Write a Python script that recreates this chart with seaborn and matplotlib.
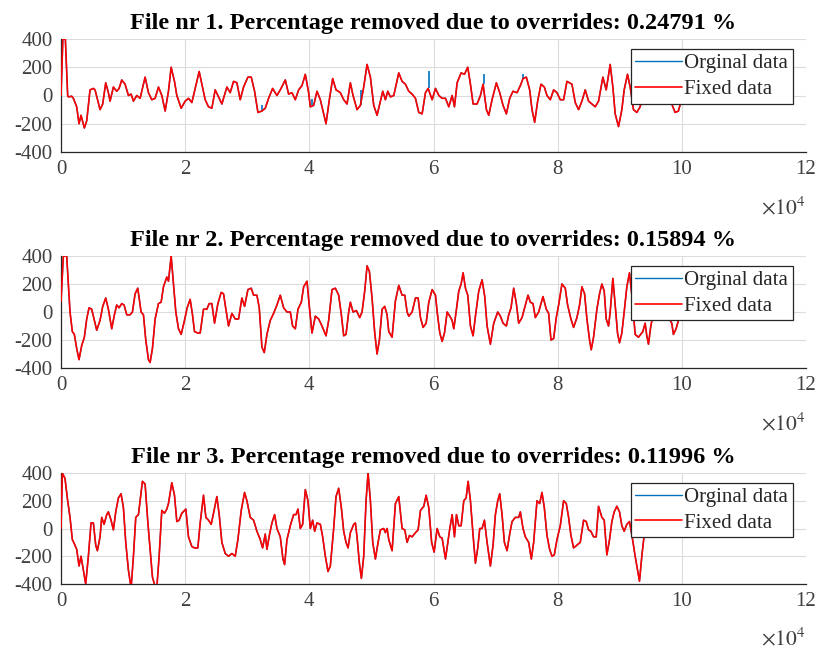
import numpy as np
import pandas as pd
import matplotlib
matplotlib.use("Agg")
import matplotlib.pyplot as plt
import seaborn as sns
from matplotlib.ticker import FixedLocator, FuncFormatter

# ---- data: sample index and filtered value, one set per file ----
file1_x = [0, 300, 700, 1075, 1183, 1720, 1989, 2527, 2903, 3226, 3763, 4140, 4677, 5215, 5484,
           6290, 6720, 7204, 7634, 7903, 8440, 8978, 9354, 9784, 10322, 10859, 11290, 11666,
           12204, 12741, 13548, 14085, 14623, 15160, 15698, 16236, 16773, 17311, 17741, 18278,
           18655, 19354, 19999, 20536, 21074, 21612, 22257, 22687, 23224, 23762, 24300, 24837,
           25375, 25912, 26719, 27256, 27794, 28332, 28869, 29407, 30106, 30643, 31181, 31718,
           32363, 32901, 33439, 34084, 34783, 35320, 36127, 36664, 37202, 37740, 38277, 38815,
           39352, 39890, 40159, 40697, 41234, 41772, 42309, 42685, 43223, 43761, 44298, 44997,
           45535, 46072, 46610, 47040, 47685, 48223, 48760, 49298, 49835, 50373, 50911, 51448,
           51825, 52255, 52631, 53061, 53599, 54405, 54943, 55480, 56018, 56556, 57093, 57631,
           58168, 58706, 59136, 59781, 60322, 60858, 61394, 61930, 62466, 63002, 63377, 63806,
           64449, 64985, 65521, 65950, 66378, 67022, 67558, 67986, 68522, 68898, 69434, 70130,
           70666, 71202, 71738, 72274, 72810, 73454, 73990, 74418, 74954, 75490, 75866, 76294,
           76777, 77313, 77849, 78278, 78814, 79350, 79886, 80422, 80958, 81494, 82298, 82834,
           83370, 83906, 84442, 84978, 85514, 86050, 86586, 87282, 87818, 88462, 88890, 89266,
           89802, 90338, 90713, 91249, 91678, 92214, 92750, 93286, 93822, 94626, 95430, 96234,
           97038, 97842, 98378, 98914, 99450, 99878]
file1_y = [0, 400, 400, 0, -10, -5, -20, -80, -200, -140, -230, -180, 40, 50, 40,
           -100, -60, 90, 20, -40, 60, 30, 50, 110, 80, 0, 10, -40,
           0, -20, 130, 20, -30, -20, 60, 0, -110, 30, 200, 100,
           0, -90, -40, -20, -50, 50, 170, 80, -30, -80, -90, 40,
           -10, -60, 60, 20, 100, 90, -30, 60, 130, 130, 30, -120,
           -110, -90, -20, 50, 0, 40, 110, 10, 20, -30, 40, 70,
           150, 20, -80, -70, 30, -30, -130, -200, -30, 120, 40, 20,
           -30, -60, 90, 0, -100, -70, 60, 220, 130, -70, -140, -40,
           30, -30, 30, -10, 0, 160, 100, 80, 30, 10, -20, -120,
           -130, 20, 50, -30, 50, 0, -20, -20, -80, 0, -80, 90,
           160, 150, 200, 80, -60, -60, 0, 80, -100, -140, -30, 90,
           20, -70, -130, -20, 30, 20, 70, 120, 130, 40, -100, -190,
           -40, 80, 60, 0, -30, 40, 20, -30, -30, 100, 80, -50,
           -100, -40, 40, -40, -60, -80, -40, 130, 40, 220, 60, -130,
           -220, -100, 40, 150, 60, -100, -120, -80, 30, 100, -20, 60,
           20, -20, -60, -120, -110, -40]

file2_x = [0, 376, 914, 1183, 1452, 1828, 2150, 2527, 2903, 3333, 3763, 4140, 4516, 4946, 5376,
           5752, 6290, 6720, 7204, 7634, 8172, 8602, 8978, 9354, 9784, 10161, 10591, 11128,
           11505, 11935, 12365, 12902, 13279, 13655, 14085, 14354, 14730, 15160, 15698, 16128,
           16504, 17042, 17311, 17741, 18117, 18493, 18924, 19354, 19891, 20321, 20805, 21181,
           21504, 22042, 22418, 22956, 23493, 23869, 24300, 24730, 25267, 25805, 26181, 26557,
           26988, 27525, 28063, 28600, 29138, 29568, 30106, 30643, 31020, 31557, 31933, 32363,
           32740, 33170, 33707, 34245, 34783, 35320, 35858, 36396, 36933, 37309, 37740, 38170,
           38707, 39084, 39621, 39997, 40427, 40965, 41503, 42040, 42685, 43115, 43653, 44191,
           44728, 45158, 45535, 45911, 46341, 46610, 47040, 47578, 48115, 48492, 48922, 49298,
           49674, 50104, 50534, 50911, 51287, 51717, 52147, 52524, 52793, 53330, 53868, 54405,
           54943, 55373, 55749, 56018, 56556, 57093, 57523, 57900, 58330, 58813, 59243, 59781,
           60319, 60590, 61018, 61394, 61769, 62198, 62626, 63002, 63270, 63698, 64074, 64449,
           64770, 65146, 65521, 65950, 66378, 66754, 67290, 67826, 68254, 68630, 69166, 69702,
           70345, 70774, 71202, 71738, 72114, 72489, 72918, 73346, 73722, 74258, 74794, 75222,
           75598, 76026, 76402, 76938, 77634, 78170, 78546, 78921, 79350, 79778, 80154, 80690,
           81226, 81601, 82137, 82566, 83102, 83530, 83906, 84334, 84710, 85138, 85406, 85782,
           86318, 86746, 87122, 87497, 87818, 88194, 88462, 88890, 89266, 89641, 89962, 90338,
           90713, 91142, 91570, 91999, 92482, 93018, 93714, 94090, 94358, 94626, 95001, 95698,
           96502, 97306, 97842, 98378, 98646, 99074, 99450]
file2_y = [75, 400, 400, 200, 0, -140, -160, -260, -340, -240, -180, -50, 30, 20, -60,
           -130, -60, 40, 100, 20, -120, -20, 50, 30, 60, 50, -20, -20,
           0, 130, 170, 0, -20, -200, -340, -360, -260, -50, 60, 70,
           180, 250, 220, 400, 200, 0, -120, -160, -60, 30, 90, -20,
           -140, -150, -150, 20, 20, 60, 60, -80, 60, 140, 130, 20,
           -100, -10, -50, -50, 100, 40, 160, 170, 120, 120, 30, -250,
           -290, -160, -60, -10, 50, 120, 30, 0, 0, -100, -120, 20,
           70, 180, 220, 40, -150, -30, -50, -100, -170, -60, 160, 170,
           120, -20, -170, -160, 0, 70, 0, 10, -40, 0, 150, 330,
           290, 100, -150, -300, -200, 20, 40, -20, -140, -180, 80, 190,
           120, 120, 0, -30, 0, 100, 100, -40, -110, -80, 70, 160,
           120, 0, -150, -210, -150, 0, -30, -60, -120, 20, 150, 200,
           280, 170, 120, -100, -170, -30, 150, 230, 110, -100, -230, -80,
           0, -30, -80, -100, -20, 30, 170, 60, -80, -40, 50, 120,
           70, 60, -40, 0, 110, 20, -10, -200, -190, -40, 50, 200,
           170, 50, -50, -110, -40, 50, 180, 130, -50, -200, -270, -180,
           20, 130, 200, 150, -50, -100, 0, 240, 50, -150, -220, -150,
           0, 180, 280, 100, -160, -180, -140, -80, -170, -230, -100, 50,
           150, 0, -40, -80, -160, -120, -60]

file3_x = [0, 215, 645, 1075, 1452, 1828, 2150, 2527, 2903, 3226, 3602, 3978, 4408, 4838, 5215,
           5591, 5860, 6290, 6559, 6935, 7365, 7634, 8064, 8440, 8817, 9247, 9677, 10053,
           10429, 10859, 11290, 11666, 12042, 12472, 13117, 13548, 13978, 14354, 14730, 15160,
           15429, 15805, 16236, 16666, 17042, 17311, 17848, 18278, 18655, 19031, 19461, 20106,
           20536, 21074, 21504, 22042, 22418, 22956, 23332, 23762, 24192, 24568, 25106, 25482,
           25912, 26450, 26988, 27525, 28063, 28493, 29030, 29568, 29944, 30482, 31020, 31557,
           32095, 32471, 32901, 33170, 33600, 33976, 34406, 34783, 35320, 35750, 36019, 36396,
           36933, 37471, 37847, 38170, 38546, 38922, 39352, 39782, 40159, 40535, 40858, 41234,
           41772, 42148, 42578, 43008, 43384, 43922, 44298, 44728, 45158, 45535, 45911, 46234,
           46610, 47148, 47417, 47685, 48061, 48384, 48760, 49137, 49459, 49835, 50212, 50642,
           51072, 51448, 51986, 52255, 52524, 52793, 53330, 53868, 54405, 54943, 55373, 55749,
           56126, 56556, 57093, 57523, 57900, 58437, 58813, 59243, 59700, 60100, 60590, 61018,
           61394, 61930, 62305, 62626, 63002, 63377, 63698, 64074, 64449, 64878, 65253, 65574,
           65950, 66378, 66754, 67129, 67450, 67826, 68201, 68630, 69166, 69594, 69970, 70345,
           70666, 71042, 71417, 71846, 72274, 72650, 73186, 73722, 73990, 74418, 74794, 75330,
           75758, 76134, 76670, 77098, 77474, 77849, 78278, 78706, 79082, 79457, 79886, 80422,
           80958, 81386, 81762, 82137, 82566, 83102, 83638, 84174, 84602, 84978, 85353, 85782,
           86210, 86586, 87122, 87497, 87926, 88354, 88730, 89105, 89534, 89962, 90338, 90713,
           91142, 91570, 91999, 92482, 93178, 93554, 93929, 94626, 95430, 96234, 96770, 97306,
           97574]
file3_y = [0, 400, 360, 200, 80, -80, -110, -150, -270, -200, -300, -400, -200, 40, 40,
           -120, -160, -60, 80, 30, 100, 120, 60, -10, 120, 220, 250, 150,
           -100, -300, -430, -200, 80, 100, 340, 320, 50, -150, -350, -420,
           -430, -200, 130, 110, 140, 180, 330, 240, 50, 60, 110, 140,
           -60, -130, -140, -140, 40, 240, 80, 60, 30, 110, 230, 100,
           -100, -180, -200, -180, -200, -80, 130, 260, 200, 80, 60, -20,
           -80, -140, -40, -150, -40, 40, 100, 0, -60, -220, -260, -80,
           20, 100, 100, 140, 0, 30, 280, 200, 0, 60, -20, 40,
           30, -60, -200, -310, -270, 0, 230, 290, 150, -20, -100, -140,
           -30, 30, 40, -60, -250, -360, -200, 200, 400, 200, -100, -220,
           -100, -10, 0, -30, 0, -80, -160, 180, 230, 0, -10, -100,
           -50, -60, -30, -10, 130, 160, 240, 150, -100, -170, 0, -60,
           -70, -220, -100, 0, 100, -60, 100, 20, 20, 200, 220, 340,
           200, -50, -250, -140, 0, 0, 60, -100, -270, -120, 100, 200,
           250, 100, -100, -160, -40, 50, 80, 80, 120, 0, -60, -100,
           -220, -100, 200, 180, 260, 150, -50, -150, -200, -190, -80, 20,
           200, 180, 80, -50, -140, -120, -100, 60, 50, -10, -20, -60,
           -60, 160, 80, 60, -190, -80, 50, 120, 160, 120, 20, -20,
           30, 50, -60, -200, -380, -200, -50, 100, -20, 60, 0, -60,
           -50]

# override spikes present only in the original recording of file 1
spike_x = [32363, 40427, 48330, 59351, 68094, 74418]
spike_lo = [-110, -70, -70, 50, 80, 120]
spike_hi = [-70, -25, 40, 170, 150, 150]

titles = ["File nr 1. Percentage removed due to overrides: 0.24791 %",
          "File nr 2. Percentage removed due to overrides: 0.15894 %",
          "File nr 3. Percentage removed due to overrides: 0.11996 %"]
x_ticks = [0, 20000, 40000, 60000, 80000, 100000, 120000]
y_ticks = [-400, -200, 0, 200, 400]
legend_labels = ["Orginal data", "Fixed data"]

BLUE = "#0072BD"
RED = "#FF0000"
INK = "#262626"

sns.set_style("white")
plt.rcParams["font.family"] = ["Liberation Serif", "DejaVu Serif"]
plt.rcParams["mathtext.fontset"] = "stix"
plt.rcParams["axes.unicode_minus"] = False

fig = plt.figure(figsize=(8.18, 6.55), dpi=100)
W, H = 818.0, 655.0
boxes = [(39, 152), (256, 368), (473, 584)]
panels = [(file1_x, file1_y), (file2_x, file2_y), (file3_x, file3_y)]

for i, ((top, bot), (xs, ys)) in enumerate(zip(boxes, panels)):
    ax = fig.add_axes([61 / W, 1 - bot / H, (806 - 61) / W, (bot - top) / H])
    df = pd.DataFrame({"sample": xs, "value": ys})
    sns.lineplot(data=df, x="sample", y="value", ax=ax, color=BLUE, lw=1.0,
                 estimator=None, sort=False, label=legend_labels[0])
    if i == 0:
        ax.vlines(spike_x, spike_lo, spike_hi, color=BLUE, lw=1.2, zorder=2)
    sns.lineplot(data=df, x="sample", y="value", ax=ax, color=RED, lw=1.2,
                 estimator=None, sort=False, label=legend_labels[1], zorder=3)

    ax.set_xlim(0, 120000)
    ax.set_ylim(-400, 400)
    ax.xaxis.set_major_locator(FixedLocator(x_ticks))
    ax.yaxis.set_major_locator(FixedLocator(y_ticks))
    ax.xaxis.set_major_formatter(FuncFormatter(lambda v, p: f"{v / 1e4:g}"))
    ax.set_xlabel("")
    ax.set_ylabel("")
    ax.grid(True, color="#dcdcdc", lw=0.8)
    ax.set_axisbelow(True)
    for s in ("top", "right"):
        ax.spines[s].set_visible(False)
    for s in ("left", "bottom"):
        ax.spines[s].set_color(INK)
        ax.spines[s].set_linewidth(0.9)
    ax.tick_params(direction="in", length=4, width=0.8, color=INK,
                   labelsize=15, labelcolor="#404040", pad=6)
    ax.set_title(titles[i], fontsize=17.5, fontweight="bold", pad=7, color="black")
    ax.text(1.0, -0.50, r"$\times10^4$", transform=ax.transAxes, ha="right",
            va="center", fontsize=15.5, color="#404040")
    leg = ax.legend(loc="upper right", bbox_to_anchor=(0.982, 0.912), borderaxespad=0,
                    fontsize=15, handlelength=2.25, handletextpad=0.1, borderpad=0.22,
                    labelspacing=0.3, fancybox=False, framealpha=1, edgecolor=INK)
    leg.get_frame().set_linewidth(0.9)

fig.savefig("out.png", dpi=100)
